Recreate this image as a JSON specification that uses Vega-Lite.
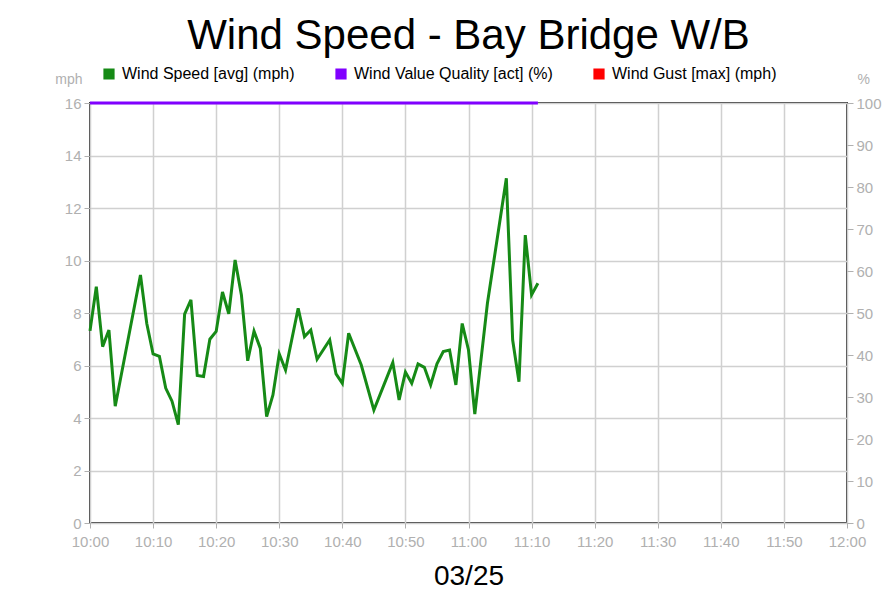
{
  "$schema": "https://vega.github.io/schema/vega-lite/v6.json",
  "width": 757,
  "height": 420,
  "autosize": "none",
  "padding": {"left": 90, "top": 103, "right": 45, "bottom": 87},
  "background": "white",
  "config": {
    "font": "Liberation Sans",
    "view": {"stroke": "#3a3a3a", "strokeWidth": 2},
    "axis": {"labelFont": "Liberation Sans", "titleFont": "Liberation Sans"}
  },
  "title": {
    "text": "Wind Speed - Bay Bridge W/B",
    "fontSize": 42,
    "font": "Liberation Sans",
    "fontWeight": "normal",
    "color": "#000000",
    "anchor": "middle",
    "offset": 8
  },
  "data": {
    "values": [
      {"time": "2024-03-25T10:00:00Z", "speed": 7.32, "quality": 100},
      {"time": "2024-03-25T10:01:00Z", "speed": 9.0, "quality": 100},
      {"time": "2024-03-25T10:02:00Z", "speed": 6.72, "quality": 100},
      {"time": "2024-03-25T10:03:00Z", "speed": 7.35, "quality": 100},
      {"time": "2024-03-25T10:04:00Z", "speed": 4.45, "quality": 100},
      {"time": "2024-03-25T10:08:00Z", "speed": 9.45, "quality": 100},
      {"time": "2024-03-25T10:09:00Z", "speed": 7.6, "quality": 100},
      {"time": "2024-03-25T10:10:00Z", "speed": 6.44, "quality": 100},
      {"time": "2024-03-25T10:11:00Z", "speed": 6.35, "quality": 100},
      {"time": "2024-03-25T10:12:00Z", "speed": 5.14, "quality": 100},
      {"time": "2024-03-25T10:13:00Z", "speed": 4.64, "quality": 100},
      {"time": "2024-03-25T10:14:00Z", "speed": 3.75, "quality": 100},
      {"time": "2024-03-25T10:15:00Z", "speed": 7.96, "quality": 100},
      {"time": "2024-03-25T10:16:00Z", "speed": 8.5, "quality": 100},
      {"time": "2024-03-25T10:17:00Z", "speed": 5.62, "quality": 100},
      {"time": "2024-03-25T10:18:00Z", "speed": 5.58, "quality": 100},
      {"time": "2024-03-25T10:19:00Z", "speed": 7.0, "quality": 100},
      {"time": "2024-03-25T10:20:00Z", "speed": 7.3, "quality": 100},
      {"time": "2024-03-25T10:21:00Z", "speed": 8.8, "quality": 100},
      {"time": "2024-03-25T10:22:00Z", "speed": 7.97, "quality": 100},
      {"time": "2024-03-25T10:23:00Z", "speed": 10.02, "quality": 100},
      {"time": "2024-03-25T10:24:00Z", "speed": 8.69, "quality": 100},
      {"time": "2024-03-25T10:25:00Z", "speed": 6.18, "quality": 100},
      {"time": "2024-03-25T10:26:00Z", "speed": 7.31, "quality": 100},
      {"time": "2024-03-25T10:27:00Z", "speed": 6.65, "quality": 100},
      {"time": "2024-03-25T10:28:00Z", "speed": 4.05, "quality": 100},
      {"time": "2024-03-25T10:29:00Z", "speed": 4.88, "quality": 100},
      {"time": "2024-03-25T10:30:00Z", "speed": 6.44, "quality": 100},
      {"time": "2024-03-25T10:31:00Z", "speed": 5.83, "quality": 100},
      {"time": "2024-03-25T10:33:00Z", "speed": 8.18, "quality": 100},
      {"time": "2024-03-25T10:34:00Z", "speed": 7.1, "quality": 100},
      {"time": "2024-03-25T10:35:00Z", "speed": 7.35, "quality": 100},
      {"time": "2024-03-25T10:36:00Z", "speed": 6.24, "quality": 100},
      {"time": "2024-03-25T10:38:00Z", "speed": 6.97, "quality": 100},
      {"time": "2024-03-25T10:39:00Z", "speed": 5.68, "quality": 100},
      {"time": "2024-03-25T10:40:00Z", "speed": 5.32, "quality": 100},
      {"time": "2024-03-25T10:41:00Z", "speed": 7.23, "quality": 100},
      {"time": "2024-03-25T10:43:00Z", "speed": 6.02, "quality": 100},
      {"time": "2024-03-25T10:45:00Z", "speed": 4.3, "quality": 100},
      {"time": "2024-03-25T10:48:00Z", "speed": 6.11, "quality": 100},
      {"time": "2024-03-25T10:49:00Z", "speed": 4.69, "quality": 100},
      {"time": "2024-03-25T10:50:00Z", "speed": 5.75, "quality": 100},
      {"time": "2024-03-25T10:51:00Z", "speed": 5.32, "quality": 100},
      {"time": "2024-03-25T10:52:00Z", "speed": 6.06, "quality": 100},
      {"time": "2024-03-25T10:53:00Z", "speed": 5.93, "quality": 100},
      {"time": "2024-03-25T10:54:00Z", "speed": 5.26, "quality": 100},
      {"time": "2024-03-25T10:55:00Z", "speed": 6.06, "quality": 100},
      {"time": "2024-03-25T10:56:00Z", "speed": 6.53, "quality": 100},
      {"time": "2024-03-25T10:57:00Z", "speed": 6.59, "quality": 100},
      {"time": "2024-03-25T10:58:00Z", "speed": 5.26, "quality": 100},
      {"time": "2024-03-25T10:59:00Z", "speed": 7.6, "quality": 100},
      {"time": "2024-03-25T11:00:00Z", "speed": 6.59, "quality": 100},
      {"time": "2024-03-25T11:01:00Z", "speed": 4.15, "quality": 100},
      {"time": "2024-03-25T11:03:00Z", "speed": 8.37, "quality": 100},
      {"time": "2024-03-25T11:06:00Z", "speed": 13.13, "quality": 100},
      {"time": "2024-03-25T11:07:00Z", "speed": 6.97, "quality": 100},
      {"time": "2024-03-25T11:08:00Z", "speed": 5.38, "quality": 100},
      {"time": "2024-03-25T11:09:00Z", "speed": 10.97, "quality": 100},
      {"time": "2024-03-25T11:10:00Z", "speed": 8.69, "quality": 100},
      {"time": "2024-03-25T11:11:00Z", "speed": 9.13, "quality": 100}
    ]
  },
  "encoding": {
    "x": {
      "field": "time",
      "type": "temporal",
      "scale": {"type": "utc", "domain": [1711360800000, 1711368000000]},
      "axis": {
        "title": "03/25",
        "titleFontSize": 28,
        "titleFontWeight": "normal",
        "titleColor": "#000000",
        "titlePadding": 13,
        "format": "%H:%M",
        "values": [1711360800000, 1711361400000, 1711362000000, 1711362600000, 1711363200000, 1711363800000, 1711364400000, 1711365000000, 1711365600000, 1711366200000, 1711366800000, 1711367400000, 1711368000000],
        "labelFontSize": 15,
        "labelColor": "#b0b0b0",
        "labelPadding": 6,
        "labelFlush": false,
        "labelOverlap": false,
        "tickColor": "#b0b0b0",
        "tickSize": 5,
        "domain": false,
        "grid": true,
        "gridColor": "#d0d0d0",
        "gridWidth": 1.5
      }
    }
  },
  "layer": [
    {
      "mark": {"type": "line", "strokeWidth": 3},
      "encoding": {
        "y": {
          "field": "speed",
          "type": "quantitative",
          "scale": {"domain": [0, 16], "nice": false},
          "axis": {
            "title": "mph",
            "titleAngle": 0,
            "titleX": -8,
            "titleY": -20,
            "titleAlign": "right",
            "titleBaseline": "alphabetic",
            "titleFontSize": 14,
            "titleFontWeight": "normal",
            "titleColor": "#b0b0b0",
            "values": [0, 2, 4, 6, 8, 10, 12, 14, 16],
            "labelFontSize": 15,
            "labelColor": "#b0b0b0",
            "labelPadding": 3,
            "tickColor": "#b0b0b0",
            "tickSize": 6,
            "domain": false,
            "grid": true,
            "gridColor": "#d0d0d0",
            "gridWidth": 1.5
          }
        },
        "color": {
          "datum": "Wind Speed [avg] (mph)",
          "type": "nominal",
          "scale": {
            "domain": ["Wind Speed [avg] (mph)", "Wind Value Quality [act] (%)", "Wind Gust [max] (mph)"],
            "range": ["#168a16", "#8000ff", "#ff0000"]
          },
          "legend": {
            "orient": "none",
            "legendX": 11,
            "legendY": -37,
            "direction": "horizontal",
            "title": null,
            "symbolType": "square",
            "symbolSize": 100,
            "labelFontSize": 16,
            "labelFont": "Liberation Sans",
            "labelColor": "#000000",
            "labelOffset": 5,
            "labelLimit": 400,
            "columnPadding": 38,
            "encode": {
              "symbols": {
                "update": {
                  "fill": {"scale": "color", "field": "value"},
                  "stroke": {"value": "#000000"},
                  "strokeWidth": {"value": 1.2},
                  "opacity": {"value": 1},
                  "fillOpacity": {"value": 1},
                  "strokeOpacity": {"value": 1}
                }
              }
            }
          }
        }
      }
    },
    {
      "mark": {"type": "line", "strokeWidth": 3},
      "encoding": {
        "y": {
          "field": "quality",
          "type": "quantitative",
          "scale": {"domain": [0, 100], "nice": false},
          "axis": {
            "orient": "right",
            "title": "%",
            "titleAngle": 0,
            "titleX": 10,
            "titleY": -20,
            "titleAlign": "left",
            "titleBaseline": "alphabetic",
            "titleFontSize": 14,
            "titleFontWeight": "normal",
            "titleColor": "#b0b0b0",
            "values": [0, 10, 20, 30, 40, 50, 60, 70, 80, 90, 100],
            "labelFontSize": 15,
            "labelColor": "#b0b0b0",
            "labelPadding": 3,
            "tickColor": "#b0b0b0",
            "tickSize": 6,
            "domain": false,
            "grid": false
          }
        },
        "color": {"datum": "Wind Value Quality [act] (%)", "type": "nominal"}
      }
    }
  ],
  "resolve": {"scale": {"y": "independent"}}
}
